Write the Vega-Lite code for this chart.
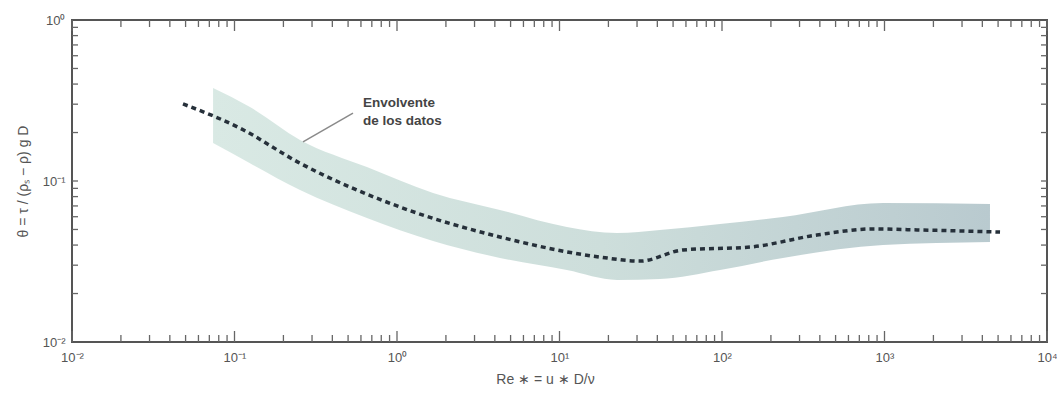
{
  "$schema": "https://vega.github.io/schema/vega-lite/v6.json",
  "autosize": {"type": "none"},
  "width": 975,
  "height": 322,
  "padding": {"left": 72, "top": 20, "right": 10, "bottom": 54},
  "background": "#ffffff",
  "config": {
    "view": {"stroke": "#555555", "strokeWidth": 2},
    "font": "Liberation Sans",
    "axis": {"domain": false, "ticks": false, "tickSize": 0, "grid": false, "labelColor": "#555555", "labelFontSize": 13, "titleColor": "#555555", "titleFontSize": 14, "titleFontWeight": "normal"}
  },
  "datasets": {
    "band": [
      {"re": 0.0738, "upper": 0.378, "lower": 0.172},
      {"re": 0.1245, "upper": 0.288, "lower": 0.129},
      {"re": 0.253, "upper": 0.180, "lower": 0.0879},
      {"re": 0.653, "upper": 0.122, "lower": 0.0589},
      {"re": 1.667, "upper": 0.0842, "lower": 0.0424},
      {"re": 4.30, "upper": 0.0661, "lower": 0.0333},
      {"re": 11.1, "upper": 0.0518, "lower": 0.0280},
      {"re": 22.6, "upper": 0.0475, "lower": 0.0243},
      {"re": 41.5, "upper": 0.0496, "lower": 0.0246},
      {"re": 97.3, "upper": 0.0541, "lower": 0.0280},
      {"re": 237, "upper": 0.0598, "lower": 0.0333},
      {"re": 979, "upper": 0.0730, "lower": 0.0400},
      {"re": 4457, "upper": 0.0720, "lower": 0.0418}
    ],
    "curve": [
      {"re": 0.0482, "theta": 0.301},
      {"re": 0.108, "theta": 0.213},
      {"re": 0.253, "theta": 0.129},
      {"re": 1.04, "theta": 0.069},
      {"re": 4.3, "theta": 0.0449},
      {"re": 17.7, "theta": 0.0337},
      {"re": 31.3, "theta": 0.0318},
      {"re": 57.5, "theta": 0.0373},
      {"re": 149, "theta": 0.0389},
      {"re": 384, "theta": 0.0462},
      {"re": 850, "theta": 0.0504},
      {"re": 1585, "theta": 0.0497},
      {"re": 5140, "theta": 0.0482}
    ],
    "leader": [
      {"x1": 0.536, "y1": 0.264, "x2": 0.264, "y2": 0.175}
    ],
    "note": [
      {"re": 0.618, "theta": 0.305, "text": "Envolvente"},
      {"re": 0.618, "theta": 0.236, "text": "de los datos"}
    ],
    "xticks": [
      {"re": 0.01, "kind": "major"}, {"re": 0.02, "kind": "minor"}, {"re": 0.03, "kind": "minor"}, {"re": 0.04, "kind": "minor"}, {"re": 0.05, "kind": "minor"}, {"re": 0.06, "kind": "minor"}, {"re": 0.07, "kind": "minor"}, {"re": 0.08, "kind": "minor"}, {"re": 0.09, "kind": "minor"},
      {"re": 0.1, "kind": "major"}, {"re": 0.2, "kind": "minor"}, {"re": 0.3, "kind": "minor"}, {"re": 0.4, "kind": "minor"}, {"re": 0.5, "kind": "minor"}, {"re": 0.6, "kind": "minor"}, {"re": 0.7, "kind": "minor"}, {"re": 0.8, "kind": "minor"}, {"re": 0.9, "kind": "minor"},
      {"re": 1, "kind": "major"}, {"re": 2, "kind": "minor"}, {"re": 3, "kind": "minor"}, {"re": 4, "kind": "minor"}, {"re": 5, "kind": "minor"}, {"re": 6, "kind": "minor"}, {"re": 7, "kind": "minor"}, {"re": 8, "kind": "minor"}, {"re": 9, "kind": "minor"},
      {"re": 10, "kind": "major"}, {"re": 20, "kind": "minor"}, {"re": 30, "kind": "minor"}, {"re": 40, "kind": "minor"}, {"re": 50, "kind": "minor"}, {"re": 60, "kind": "minor"}, {"re": 70, "kind": "minor"}, {"re": 80, "kind": "minor"}, {"re": 90, "kind": "minor"},
      {"re": 100, "kind": "major"}, {"re": 200, "kind": "minor"}, {"re": 300, "kind": "minor"}, {"re": 400, "kind": "minor"}, {"re": 500, "kind": "minor"}, {"re": 600, "kind": "minor"}, {"re": 700, "kind": "minor"}, {"re": 800, "kind": "minor"}, {"re": 900, "kind": "minor"},
      {"re": 1000, "kind": "major"}, {"re": 2000, "kind": "minor"}, {"re": 3000, "kind": "minor"}, {"re": 4000, "kind": "minor"}, {"re": 5000, "kind": "minor"}, {"re": 6000, "kind": "minor"}, {"re": 7000, "kind": "minor"}, {"re": 8000, "kind": "minor"}, {"re": 9000, "kind": "minor"},
      {"re": 10000, "kind": "major"}
    ],
    "yticks": [
      {"theta": 0.02}, {"theta": 0.03}, {"theta": 0.04}, {"theta": 0.05}, {"theta": 0.06}, {"theta": 0.07}, {"theta": 0.08}, {"theta": 0.09},
      {"theta": 0.1}, {"theta": 0.2}, {"theta": 0.3}, {"theta": 0.4}, {"theta": 0.5}, {"theta": 0.6}, {"theta": 0.7}, {"theta": 0.8}, {"theta": 0.9}
    ]
  },
  "layer": [
    {
      "data": {"name": "band"},
      "mark": {"type": "area", "interpolate": "monotone",
        "color": {"gradient": "linear", "x1": 0, "y1": 0, "x2": 1, "y2": 0,
          "stops": [{"offset": 0, "color": "#d9e9e4"}, {"offset": 0.5, "color": "#cddedb"}, {"offset": 1, "color": "#b9cacf"}]}},
      "encoding": {
        "x": {"field": "re", "type": "quantitative", "title": "Re ∗ = u ∗ D/ν",
          "scale": {"type": "log", "domain": [0.01, 10000], "nice": false},
          "axis": {"orient": "bottom", "title": "Re ∗ = u ∗ D/ν", "titlePadding": 8, "titleX": 473, "titleAlign": "center",
            "values": [0.01, 0.1, 1, 10, 100, 1000, 10000],
            "labelExpr": "['10⁻²','10⁻¹','10⁰','10¹','10²','10³','10⁴'][round(log(datum.value)/LN10)+2]",
            "labelPadding": 9, "labelFlush": false}},
        "y": {"field": "upper", "type": "quantitative", "title": "θ = τ / (ρₛ − ρ) g D",
          "scale": {"type": "log", "domain": [0.01, 1], "nice": false},
          "axis": {"orient": "left", "title": "θ = τ / (ρₛ − ρ) g D", "titlePadding": 12,
            "values": [0.01, 0.1, 1],
            "labelExpr": "['10⁻²','10⁻¹','10⁰'][round(log(datum.value)/LN10)+2]",
            "labelPadding": 7, "labelFlush": false}},
        "y2": {"field": "lower"}
      }
    },
    {
      "data": {"name": "curve"},
      "mark": {"type": "line", "color": "#26303a", "strokeWidth": 3.5, "strokeDash": [5, 4], "interpolate": "monotone"},
      "encoding": {
        "x": {"field": "re", "type": "quantitative", "axis": null},
        "y": {"field": "theta", "type": "quantitative", "axis": null}
      }
    },
    {
      "data": {"name": "leader"},
      "mark": {"type": "rule", "color": "#8a8a8a", "strokeWidth": 1.5},
      "encoding": {
        "x": {"field": "x1", "type": "quantitative", "axis": null},
        "y": {"field": "y1", "type": "quantitative", "axis": null},
        "x2": {"field": "x2"},
        "y2": {"field": "y2"}
      }
    },
    {
      "data": {"name": "note"},
      "mark": {"type": "text", "align": "left", "baseline": "middle", "fontSize": 13.5, "fontWeight": "bold", "color": "#444444"},
      "encoding": {
        "x": {"field": "re", "type": "quantitative", "axis": null},
        "y": {"field": "theta", "type": "quantitative", "axis": null},
        "text": {"field": "text"}
      }
    },
    {
      "data": {"name": "xticks"},
      "transform": [{"filter": "datum.kind == 'major'"}],
      "mark": {"type": "tick", "orient": "vertical", "size": 11, "thickness": 1.3, "yOffset": -5.5, "color": "#666666", "opacity": 1},
      "encoding": {
        "x": {"field": "re", "type": "quantitative", "axis": null},
        "y": {"datum": 0.01, "type": "quantitative", "axis": null}
      }
    },
    {
      "data": {"name": "xticks"},
      "transform": [{"filter": "datum.kind == 'major'"}],
      "mark": {"type": "tick", "orient": "vertical", "size": 11, "thickness": 1.3, "yOffset": 5.5, "color": "#666666", "opacity": 1},
      "encoding": {
        "x": {"field": "re", "type": "quantitative", "axis": null},
        "y": {"datum": 1, "type": "quantitative", "axis": null}
      }
    },
    {
      "data": {"name": "xticks"},
      "transform": [{"filter": "datum.kind == 'minor'"}],
      "mark": {"type": "tick", "orient": "vertical", "size": 7, "thickness": 1.3, "yOffset": -3.5, "color": "#666666", "opacity": 1},
      "encoding": {
        "x": {"field": "re", "type": "quantitative", "axis": null},
        "y": {"datum": 0.01, "type": "quantitative", "axis": null}
      }
    },
    {
      "data": {"name": "xticks"},
      "transform": [{"filter": "datum.kind == 'minor'"}],
      "mark": {"type": "tick", "orient": "vertical", "size": 7, "thickness": 1.3, "yOffset": 3.5, "color": "#666666", "opacity": 1},
      "encoding": {
        "x": {"field": "re", "type": "quantitative", "axis": null},
        "y": {"datum": 1, "type": "quantitative", "axis": null}
      }
    },
    {
      "data": {"name": "yticks"},
      "mark": {"type": "tick", "orient": "horizontal", "size": 6, "thickness": 1.3, "xOffset": 3, "color": "#666666", "opacity": 1},
      "encoding": {
        "y": {"field": "theta", "type": "quantitative", "axis": null},
        "x": {"datum": 0.01, "type": "quantitative", "axis": null}
      }
    },
    {
      "data": {"name": "yticks"},
      "mark": {"type": "tick", "orient": "horizontal", "size": 6, "thickness": 1.3, "xOffset": -3, "color": "#666666", "opacity": 1},
      "encoding": {
        "y": {"field": "theta", "type": "quantitative", "axis": null},
        "x": {"datum": 10000, "type": "quantitative", "axis": null}
      }
    }
  ],
  "resolve": {"axis": {"x": "independent", "y": "independent"}}
}
